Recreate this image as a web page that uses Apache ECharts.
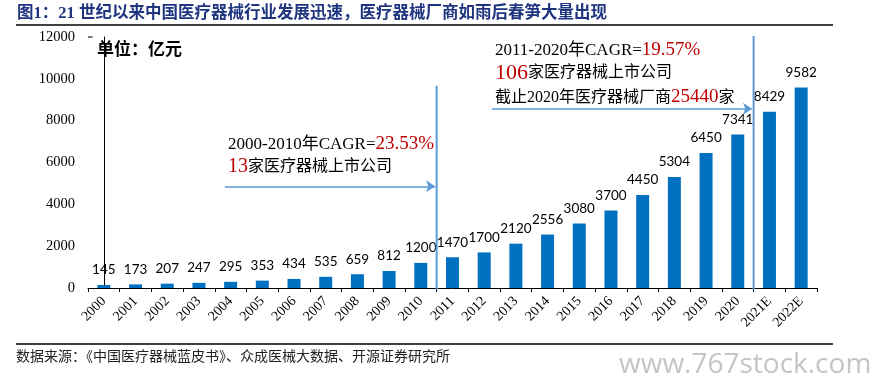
<!DOCTYPE html>
<html><head><meta charset="utf-8">
<script src="https://cdn.jsdelivr.net/npm/echarts@6/dist/echarts.min.js"></script>
<style>html,body{margin:0;padding:0;background:#fff;}#c{width:879px;height:383px;}</style>
</head><body><div id="c"></div>
<script>
const categories = ['2000','2001','2002','2003','2004','2005','2006','2007','2008','2009','2010','2011','2012','2013','2014','2015','2016','2017','2018','2019','2020','2021E','2022E'];
const marketSize = [145,173,207,247,295,353,434,535,659,812,1200,1470,1700,2120,2556,3080,3700,4450,5304,6450,7341,8429,9582];
const yMax = 12000;
const yInterval = 2000;

const serif = 'Liberation Serif';
const cjkSerif = '"Liberation Serif","Noto Sans CJK SC",serif';
const lineBlue = '#5b9bd5';
const red = '#c00000';

const chart = echarts.init(document.getElementById('c'));
chart.setOption({
  animation: false,
  grid: {left: 88, right: 62, top: 37, bottom: 95, containLabel: false},
  xAxis: [{
    type: 'category', data: categories, boundaryGap: true,
    axisLine: {lineStyle: {color: '#000', width: 1}},
    axisTick: {show: true, length: 4, lineStyle: {color: '#000'}},
    axisLabel: {rotate: 45, interval: 0, margin: 11, color: '#000', fontFamily: serif, fontSize: 14}
  }, {
    type: 'value', min: -0.5, max: categories.length - 0.5, show: false
  }],
  yAxis: {
    type: 'value', min: 0, max: yMax, interval: yInterval,
    axisLine: {show: true, lineStyle: {color: '#000', width: 1}},
    axisTick: {show: false},
    splitLine: {show: false},
    axisLabel: {color: '#000', fontFamily: serif, fontSize: 14.5, margin: 13, formatter: v => String(v)}
  },
  series: [{
    type: 'bar', data: marketSize, barWidth: 13,
    itemStyle: {color: '#0070c0'},
    label: {show: true, position: 'top', distance: 8, color: '#000', fontFamily: 'Lato', fontSize: 13.5}
  }, {
    type: 'line', xAxisIndex: 1, clip: false, symbol: 'none', silent: true,
    data: [[-0.5, yMax], [-0.35, yMax]],
    lineStyle: {color: '#000', width: 1}
  }, {
    type: 'line', xAxisIndex: 1, clip: false, symbol: 'none', silent: true,
    data: [[10.5, -60], [10.5, 9670]],
    lineStyle: {color: lineBlue, width: 2}
  }, {
    type: 'line', xAxisIndex: 1, clip: false, symbol: 'none', silent: true,
    data: [[20.5, -60], [20.5, 12050]],
    lineStyle: {color: lineBlue, width: 2}
  }, {
    type: 'lines', coordinateSystem: 'cartesian2d', xAxisIndex: 1, silent: true,
    symbol: ['none', 'arrow'], symbolSize: 9,
    lineStyle: {color: lineBlue, width: 1.5, opacity: 1},
    data: [{coords: [[3.82, 4860], [10.45, 4860]]}, {coords: [[12.24, 8570], [20.45, 8570]]}]
  }],
  graphic: [
    {type: 'text', left: 17, top: 5, style: {text: '图1：21 世纪以来中国医疗器械行业发展迅速，医疗器械厂商如雨后春笋大量出现', fill: '#1f3580', font: 'bold 16.5px "Liberation Serif","Noto Sans CJK SC",serif'}},
    {type: 'line', shape: {x1: 16, y1: 25, x2: 833, y2: 25}, style: {stroke: '#000', lineWidth: 1.5}},
    {type: 'line', shape: {x1: 16, y1: 344, x2: 833, y2: 344}, style: {stroke: '#000', lineWidth: 1.5}},
    {type: 'text', left: 16, top: 349, style: {text: '数据来源：《中国医疗器械蓝皮书》、众成医械大数据、开源证券研究所', fill: '#222', font: '14px "Noto Sans CJK SC",serif'}},
    {type: 'text', left: 619, top: 351, style: {text: 'www.767stock.com', fill: '#c4c4c4', font: '28px "Open Sans",sans-serif'}},
    {type: 'text', left: 97, top: 40, style: {text: '单位：亿元', fill: '#000', font: 'bold 17px "Noto Sans CJK SC",sans-serif'}},
    {type: 'text', left: 228, top: 135, style: {text: '{a|2000-2010年CAGR=}{r|23.53%}', rich: {
      a: {fontFamily: cjkSerif, fontSize: 17, fill: '#000'},
      r: {fontFamily: 'Liberation Serif', fontSize: 19, fill: red}}}},
    {type: 'text', left: 228, top: 157, style: {text: '{r|13}{a|家医疗器械上市公司}', rich: {
      a: {fontFamily: cjkSerif, fontSize: 16, fill: '#000'},
      r: {fontFamily: 'Liberation Serif', fontSize: 20, fill: red}}}},
    {type: 'text', left: 495, top: 41, style: {text: '{a|2011-2020年CAGR=}{r|19.57%}', rich: {
      a: {fontFamily: cjkSerif, fontSize: 17, fill: '#000'},
      r: {fontFamily: 'Liberation Serif', fontSize: 19, fill: red}}}},
    {type: 'text', left: 495, top: 62, style: {text: '{r|106}{a|家医疗器械上市公司}', rich: {
      a: {fontFamily: cjkSerif, fontSize: 16, fill: '#000'},
      r: {fontFamily: 'Liberation Serif', fontSize: 22, fill: red}}}},
    {type: 'text', left: 495, top: 88, style: {text: '{a|截止2020年医疗器械厂商}{r|25440}{a|家}', rich: {
      a: {fontFamily: cjkSerif, fontSize: 16, fill: '#000'},
      r: {fontFamily: 'Liberation Serif', fontSize: 19, fill: red}}}}
  ]
});
</script></body></html>
